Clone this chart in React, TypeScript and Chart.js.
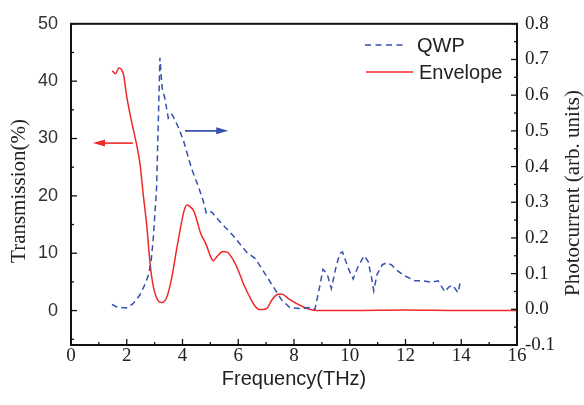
import React, { useEffect, useRef } from "react";
import { Chart, registerables } from "chart.js";

Chart.register(...registerables);

// ---------- data ----------
const qwpFreq = [1.47, 1.6, 1.75, 1.99, 2.23, 2.47, 2.63, 2.79, 2.88, 2.95, 3.07, 3.13, 3.19, 3.23, 3.27, 3.37, 3.49, 3.6, 3.67, 3.85, 4.03, 4.33, 4.57, 4.74, 4.86, 5.04, 5.34, 5.82, 6.3, 6.6, 6.9, 7.3, 7.55, 7.85, 8.2, 8.57, 8.75, 8.92, 9.04, 9.19, 9.34, 9.5, 9.64, 9.74, 9.94, 10.12, 10.3, 10.52, 10.66, 10.78, 10.86, 10.98, 11.17, 11.31, 11.49, 11.73, 11.97, 12.33, 12.63, 12.93, 13.17, 13.41, 13.56, 13.7, 13.88, 13.96, 14.06];
const qwpValues = [0.014, 0.008, 0.005, 0.004, 0.016, 0.04, 0.066, 0.098, 0.14, 0.197, 0.34, 0.52, 0.705, 0.66, 0.62, 0.59, 0.536, 0.548, 0.54, 0.51, 0.474, 0.393, 0.344, 0.304, 0.268, 0.273, 0.246, 0.206, 0.16, 0.143, 0.107, 0.058, 0.027, 0.005, 0.002, 0.005, 0, 0.063, 0.112, 0.099, 0.058, 0.116, 0.156, 0.161, 0.116, 0.085, 0.12, 0.15, 0.134, 0.09, 0.052, 0.098, 0.125, 0.13, 0.125, 0.107, 0.094, 0.08, 0.08, 0.076, 0.08, 0.049, 0.063, 0.067, 0.047, 0.074, 0.07];

const envFreq = [1.48, 1.6, 1.72, 1.88, 2.0, 2.18, 2.36, 2.48, 2.59, 2.72, 2.8, 2.87, 2.99, 3.13, 3.25, 3.43, 3.61, 3.8, 3.95, 4.05, 4.16, 4.3, 4.4, 4.5, 4.65, 4.85, 5.0, 5.1, 5.25, 5.45, 5.6, 5.8, 6.0, 6.2, 6.4, 6.6, 6.75, 6.9, 7.05, 7.2, 7.4, 7.55, 7.8, 8.1, 8.4, 8.7, 9.0, 10.0, 12.0, 14.0, 16.0];
const envValues = [41.8, 41.3, 42.3, 41.2, 37.3, 32.8, 28.8, 25.4, 20.3, 14.7, 10.2, 6.8, 3.4, 1.7, 1.4, 2.25, 5.6, 11, 15, 17.3, 18.4, 18, 17.4, 16, 13.5, 11.5, 9.5, 8.7, 9.5, 10.3, 10.2, 9, 7, 4.5, 2.5, 0.8, 0.2, 0.2, 0.5, 1.8, 2.8, 2.9, 2.1, 1.2, 0.5, 0.05, 0, 0, 0.1, 0, 0];

const seriesNames = ["QWP", "Envelope"];
const seriesColors = ["#3552ad", "#f02828"];

const xTicks = [0, 2, 4, 6, 8, 10, 12, 14, 16];
const leftTicks = [0, 10, 20, 30, 40, 50];
const rightTicks = [-0.1, 0, 0.1, 0.2, 0.3, 0.4, 0.5, 0.6, 0.7, 0.8];

const xTitle = "Frequency(THz)";
const leftTitle = "Transmission(%)";
const rightTitle = "Photocurrent (arb. units)";

// arrows: [xStart, xEnd, y]
const redArrow = [2.22, 0.79, 29.2];
const blueArrow = [4.09, 5.64, 0.5];

const SERIF = "'Liberation Serif', 'Times New Roman', serif";
const SANS = "'Liberation Sans', Arial, sans-serif";

function midpoints(arr: number[]) {
  const out: number[] = [];
  for (let i = 0; i < arr.length - 1; i++) out.push((arr[i] + arr[i + 1]) / 2);
  return out;
}

const decorPlugin = {
  id: "decor",
  afterDraw(chart: any) {
    const { ctx, chartArea: a, scales } = chart;
    const xs = scales.x, yl = scales.y, yr = scales.y1;
    ctx.save();
    const line = (x1: number, y1: number, x2: number, y2: number) => {
      ctx.beginPath();
      ctx.moveTo(x1, y1);
      ctx.lineTo(x2, y2);
      ctx.stroke();
    };
    ctx.strokeStyle = "#111";
    ctx.lineWidth = 2;
    ctx.strokeRect(a.left, a.top, a.right - a.left, a.bottom - a.top);

    ctx.lineWidth = 1.3;
    xTicks.forEach((v) => { const p = xs.getPixelForValue(v); line(p, a.bottom, p, a.bottom - 6); });
    midpoints(xTicks).forEach((v) => { const p = xs.getPixelForValue(v); line(p, a.bottom, p, a.bottom - 3); });
    const lMinor = midpoints([-10, ...leftTicks]).filter((v) => v >= yl.min);
    leftTicks.forEach((v) => { const p = yl.getPixelForValue(v); line(a.left, p, a.left + 6, p); });
    lMinor.forEach((v) => { const p = yl.getPixelForValue(v); line(a.left, p, a.left + 3, p); });
    rightTicks.forEach((v) => { const p = yr.getPixelForValue(v); line(a.right, p, a.right - 6, p); });
    midpoints(rightTicks).forEach((v) => { const p = yr.getPixelForValue(v); line(a.right, p, a.right - 3, p); });

    const drawArrow = (x1: number, x2: number, y: number, color: string) => {
      ctx.strokeStyle = color;
      ctx.fillStyle = color;
      ctx.lineWidth = 1.6;
      const dir = Math.sign(x2 - x1);
      line(x1, y, x2 - dir * 8, y);
      ctx.beginPath();
      ctx.moveTo(x2, y);
      ctx.lineTo(x2 - dir * 12, y - 3.5);
      ctx.lineTo(x2 - dir * 12, y + 3.5);
      ctx.closePath();
      ctx.fill();
    };
    drawArrow(xs.getPixelForValue(redArrow[0]), xs.getPixelForValue(redArrow[1]), yl.getPixelForValue(redArrow[2]), seriesColors[1]);
    drawArrow(xs.getPixelForValue(blueArrow[0]), xs.getPixelForValue(blueArrow[1]), yr.getPixelForValue(blueArrow[2]), seriesColors[0]);

    ctx.font = `20px ${SANS}`;
    ctx.fillStyle = "#222";
    ctx.textBaseline = "middle";
    ctx.textAlign = "left";
    ctx.lineWidth = 1.5;
    ctx.strokeStyle = seriesColors[0];
    ctx.setLineDash([6, 4.5]);
    line(365, 45, 407, 45);
    ctx.setLineDash([]);
    ctx.fillText(seriesNames[0], 417, 46);
    ctx.strokeStyle = seriesColors[1];
    line(366, 72, 413, 72);
    ctx.fillText(seriesNames[1], 419, 73);

    ctx.fillStyle = "#222";
    ctx.textAlign = "center";
    ctx.font = `20px ${SANS}`;
    ctx.fillText(xTitle, (a.left + a.right) / 2, 379);
    ctx.font = `21px ${SERIF}`;
    ctx.save();
    ctx.translate(19, 191);
    ctx.rotate(-Math.PI / 2);
    ctx.fillText(leftTitle, 0, 0);
    ctx.restore();
    ctx.save();
    ctx.translate(573, 193);
    ctx.rotate(-Math.PI / 2);
    ctx.fillText(rightTitle, 0, 0);
    ctx.restore();
    ctx.restore();
  },
};

export default function App() {
  const ref = useRef<HTMLCanvasElement | null>(null);
  useEffect(() => {
    if (!ref.current) return;
    const chart = new Chart(ref.current, {
      type: "line",
      data: {
        datasets: [
          {
            label: seriesNames[0],
            data: qwpFreq.map((f, i) => ({ x: f, y: qwpValues[i] })),
            yAxisID: "y1",
            borderColor: seriesColors[0],
            borderWidth: 1.5,
            borderDash: [6, 4],
            pointRadius: 0,
            tension: 0,
            fill: false,
          },
          {
            label: seriesNames[1],
            data: envFreq.map((f, i) => ({ x: f, y: envValues[i] })),
            yAxisID: "y",
            borderColor: seriesColors[1],
            borderWidth: 1.5,
            pointRadius: 0,
            cubicInterpolationMode: "monotone",
            fill: false,
          },
        ],
      },
      options: {
        animation: false,
        responsive: false,
        layout: { padding: { top: 15, left: 0, right: 0, bottom: 0 } },
        plugins: { legend: { display: false }, tooltip: { enabled: false } },
        scales: {
          x: {
            type: "linear",
            min: 0,
            max: 16,
            grid: { display: false, drawTicks: false },
            border: { display: false },
            afterBuildTicks: (s: any) => { s.ticks = xTicks.map((v) => ({ value: v })); },
            afterFit: (s: any) => { s.height = 60; },
            ticks: { font: { family: SERIF, size: 19 }, color: "#222", padding: 0, maxRotation: 0, autoSkip: false },
          },
          y: {
            type: "linear",
            position: "left",
            min: -6,
            max: 50,
            grid: { display: false, drawTicks: false },
            border: { display: false },
            afterBuildTicks: (s: any) => { s.ticks = leftTicks.map((v) => ({ value: v })); },
            afterFit: (s: any) => { s.width = 71; },
            ticks: { font: { family: SANS, size: 18 }, color: "#333", padding: 13 },
          },
          y1: {
            type: "linear",
            position: "right",
            min: -0.1,
            max: 0.8,
            grid: { display: false, drawTicks: false },
            border: { display: false },
            afterBuildTicks: (s: any) => { s.ticks = rightTicks.map((v) => ({ value: v })); },
            afterFit: (s: any) => { s.width = 67; },
            ticks: {
              font: { family: SERIF, size: 19 },
              color: "#222",
              padding: 8,
              callback: (v: any) => Number(v).toFixed(1),
            },
          },
        },
      },
      plugins: [decorPlugin],
    } as any);
    return () => chart.destroy();
  }, []);
  return (
    <div style={{ position: "absolute", left: 0, top: 0, width: 584, height: 405, background: "#fff" }}>
      <canvas ref={ref} width={584} height={405} style={{ display: "block" }} />
    </div>
  );
}
